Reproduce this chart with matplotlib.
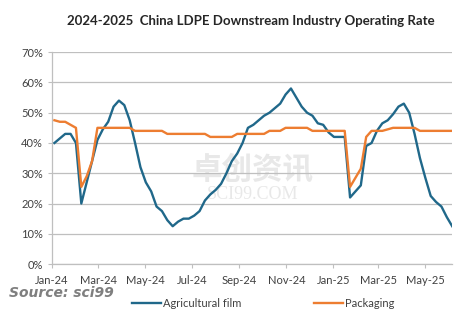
import numpy as np
import pandas as pd
import matplotlib
matplotlib.use("Agg")
import matplotlib.pyplot as plt
import matplotlib.dates as mdates
from matplotlib.ticker import MultipleLocator, PercentFormatter

plt.rcParams['font.family'] = ['Lato', 'Noto Sans CJK SC', 'DejaVu Sans']

# weekly dates, Jan 2024 - Jun 2025
dates = pd.date_range('2024-01-04', periods=75, freq='7D')

# operating rates (%)
agri_film = [40, 41.5, 43, 43, 40, 20, 27, 34, 41, 44.5,
             47, 52, 54, 52.5, 47.5, 40, 32, 27, 24, 19,
             17.5, 14.5, 12.5, 14, 15, 15, 16, 17.5, 21, 23,
             24.5, 26.5, 30, 34, 36.5, 40, 45, 46, 47.5, 49,
             50, 51.5, 53, 56, 58, 55, 52, 50, 49, 46.5,
             46, 43.5, 42, 42, 42, 22, 24, 26, 39, 40,
             44, 46.5, 47.5, 49.5, 52, 53, 50, 43, 35, 28.5,
             22.5, 20.5, 19, 15.5, 12.5]
packaging = [47.5, 47, 47, 46, 45, 25.5, 29, 34, 45, 45,
             45, 45, 45, 45, 45, 44, 44, 44, 44, 44,
             44, 43, 43, 43, 43, 43, 43, 43, 43, 42,
             42, 42, 42, 42, 43, 43, 43, 43, 43, 43,
             44, 44, 44, 45, 45, 45, 45, 45, 44, 44,
             44, 44, 44, 44, 44, 25.5, 28.5, 31.5, 42, 44,
             44, 44, 44.5, 45, 45, 45, 45, 45, 44, 44,
             44, 44, 44, 44, 44]

tick_dates = pd.to_datetime(['2024-01-01', '2024-03-01', '2024-05-01', '2024-07-01',
                             '2024-09-01', '2024-11-01', '2025-01-01', '2025-03-01',
                             '2025-05-01'])

blue = '#20688a'
orange = '#ed7d31'
grid_c = '#bfbfbf'
text_c = '#404040'

fig = plt.figure(figsize=(4.74, 3.26), dpi=100)
ax = fig.add_axes([0.11, 0.19, 0.844, 0.65])

# faint watermark
ax.text(0.5, 0.45, '卓创资讯', transform=ax.transAxes, ha='center', va='center',
        fontsize=22, color='#e8e8e8', zorder=0, fontweight='bold')
ax.text(0.5, 0.33, 'SCI99.COM', transform=ax.transAxes, ha='center', va='center',
        fontsize=13, color='#e8e8e8', zorder=0, family='Liberation Serif')

ax.plot(dates, agri_film, color=blue, lw=1.7, label='Agricultural film', zorder=3)
ax.plot(dates, packaging, color=orange, lw=1.7, label='Packaging', zorder=3)

ax.set_ylim(0, 70)
ax.yaxis.set_major_locator(MultipleLocator(10))
ax.yaxis.set_major_formatter(PercentFormatter(decimals=0))
ax.grid(axis='y', color=grid_c, lw=0.9, zorder=1)
ax.set_axisbelow(True)

ax.set_xlim(pd.Timestamp('2024-01-01'), dates[-1])
ax.set_xticks(tick_dates)
ax.xaxis.set_major_formatter(mdates.DateFormatter('%b-%y'))

for s in ['top', 'right']:
    ax.spines[s].set_visible(False)
for s in ['left', 'bottom']:
    ax.spines[s].set_color(grid_c)
    ax.spines[s].set_linewidth(0.9)
ax.tick_params(axis='both', colors=grid_c, labelcolor=text_c, labelsize=8,
               length=3, width=0.8)
ax.tick_params(axis='x', pad=5)

fig.suptitle('2024-2025  China LDPE Downstream Industry Operating Rate',
             x=0.53, y=0.955, fontsize=9.5, fontweight='bold', color='#262626')

fig.text(0.02, 0.09, 'Source: sci99', fontsize=10, fontweight='bold',
         style='italic', color='#7f7f7f', family='DejaVu Sans')

fig.legend(loc='center', bbox_to_anchor=(0.555, 0.07), ncol=2, frameon=False,
           fontsize=8, handlelength=2.6, handletextpad=0.2, columnspacing=6.5,
           labelcolor=text_c)

fig.savefig('out.png', dpi=100, facecolor='white')
